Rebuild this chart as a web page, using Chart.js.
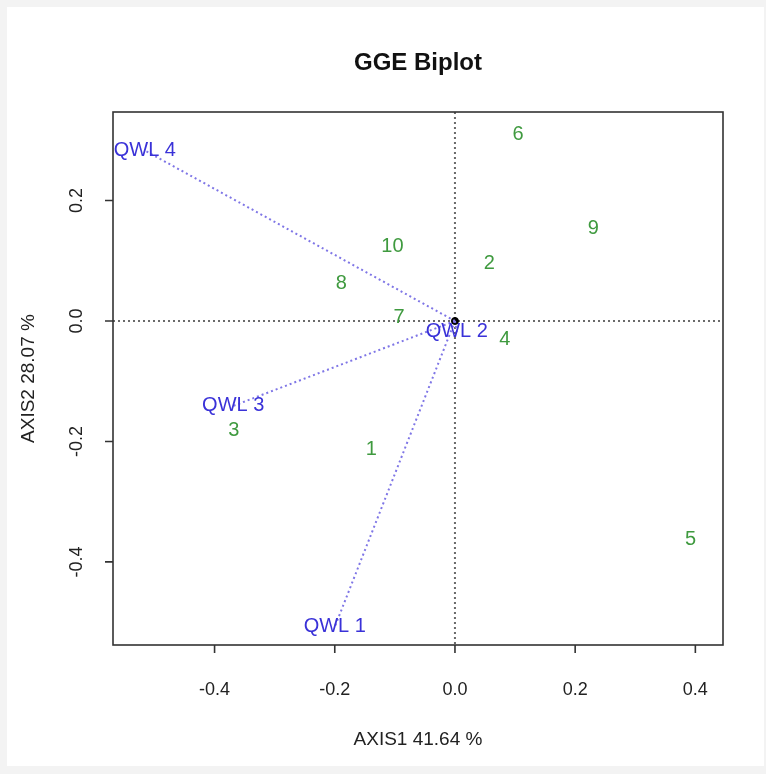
<!DOCTYPE html>
<html>
<head>
<meta charset="utf-8">
<title>GGE Biplot</title>
<script src="https://cdn.jsdelivr.net/npm/chart.js@4.4.1/dist/chart.umd.min.js"></script>
<style>
  html, body { margin: 0; padding: 0; background: #f3f3f3; }
  #wrap { position: relative; width: 766px; height: 774px; }
  #frame { position: absolute; left: 7px; top: 7px; width: 757px; height: 759px; background: #fff; }
  #biplot { position: absolute; left: 0; top: 0; }
</style>
</head>
<body>
<div id="wrap">
  <div id="frame"></div>
  <canvas id="biplot" width="766" height="774"></canvas>
</div>
<script>
'use strict';

// genotipos (puntos verdes)
var genLabels = ['1', '2', '3', '4', '5', '6', '7', '8', '9', '10'];
var genX = [-0.139, 0.057, -0.368, 0.083, 0.392, 0.105, -0.093, -0.189, 0.230, -0.104];
var genY = [-0.214, 0.095, -0.181, -0.030, -0.363, 0.309, 0.006, 0.063, 0.153, 0.123];

// ambientes (vectores azules)
var envLabels = ['QWL 1', 'QWL 2', 'QWL 3', 'QWL 4'];
var envX = [-0.200, 0.003, -0.369, -0.516];
var envY = [-0.508, -0.018, -0.141, 0.283];

// ejes
var xTicks = [-0.4, -0.2, 0.0, 0.2, 0.4];
var yTicks = [-0.4, -0.2, 0.0, 0.2];
var xRange = [-0.569, 0.446];
var yRange = [-0.538, 0.347];
var titulo = 'GGE Biplot';
var ejeX = 'AXIS1 41.64 %';
var ejeY = 'AXIS2 28.07 %';

var FONT = '"Liberation Sans", Arial, sans-serif';
var verde = '#3f9a3f';
var azul = '#3a32d8';
var azulLinea = '#7f76e6';

var genPts = [];
for (var i = 0; i < genLabels.length; i++) {
  genPts.push({ x: genX[i], y: genY[i] });
}

var datasets = [];
// vectores desde el origen a cada ambiente
for (var j = 0; j < envLabels.length; j++) {
  datasets.push({
    type: 'line',
    data: [{ x: 0, y: 0 }, { x: envX[j], y: envY[j] }],
    borderColor: azulLinea,
    borderWidth: 2,
    borderDash: [2, 3],
    pointRadius: 0,
    fill: false
  });
}
datasets.push({
  type: 'scatter',
  data: genPts,
  pointRadius: 0
});
// origen
datasets.push({
  type: 'scatter',
  data: [{ x: 0, y: 0 }],
  pointRadius: 3.5,
  pointBackgroundColor: '#000',
  pointBorderColor: '#000'
});

function tx(ctx, s, x, y, font, color, align) {
  ctx.font = font;
  ctx.fillStyle = color;
  ctx.textAlign = align || 'center';
  ctx.textBaseline = 'middle';
  ctx.fillText(s, x, y);
}

var ejesPlugin = {
  id: 'ejes',
  beforeDatasetsDraw: function (chart) {
    var ctx = chart.ctx;
    var a = chart.chartArea;
    var sx = chart.scales.x, sy = chart.scales.y;
    var x0 = sx.getPixelForValue(0), y0 = sy.getPixelForValue(0);
    ctx.save();
    ctx.strokeStyle = '#6a6a6a';
    ctx.lineWidth = 2;
    ctx.setLineDash([2, 3]);
    ctx.beginPath();
    ctx.moveTo(a.left, y0); ctx.lineTo(a.right, y0);
    ctx.moveTo(x0, a.top); ctx.lineTo(x0, a.bottom);
    ctx.stroke();
    ctx.restore();
  },
  afterDatasetsDraw: function (chart) {
    var ctx = chart.ctx;
    var a = chart.chartArea;
    var sx = chart.scales.x, sy = chart.scales.y;
    ctx.save();

    // etiquetas de genotipos
    var gm = chart.getDatasetMeta(envLabels.length);
    gm.data.forEach(function (p, k) {
      tx(ctx, genLabels[k], p.x, p.y, '20px ' + FONT, verde);
    });
    // etiquetas de ambientes
    for (var k = 0; k < envLabels.length; k++) {
      var em = chart.getDatasetMeta(k).data[1];
      tx(ctx, envLabels[k], em.x, em.y, '20px ' + FONT, azul);
    }

    // marco
    ctx.strokeStyle = '#333';
    ctx.lineWidth = 1.6;
    ctx.strokeRect(a.left, a.top, a.right - a.left, a.bottom - a.top);

    // ticks eje x
    ctx.beginPath();
    xTicks.forEach(function (v) {
      var px = sx.getPixelForValue(v);
      ctx.moveTo(px, a.bottom); ctx.lineTo(px, a.bottom + 8);
      tx(ctx, v.toFixed(1), px, a.bottom + 45, '18px ' + FONT, '#222');
    });
    // ticks eje y (etiquetas giradas como en R)
    yTicks.forEach(function (v) {
      var py = sy.getPixelForValue(v);
      ctx.moveTo(a.left, py); ctx.lineTo(a.left - 8, py);
      ctx.save();
      ctx.translate(a.left - 36, py);
      ctx.rotate(-Math.PI / 2);
      tx(ctx, v.toFixed(1), 0, 0, '18px ' + FONT, '#222');
      ctx.restore();
    });
    ctx.stroke();

    var cx = (a.left + a.right) / 2;
    tx(ctx, titulo, cx, 63, 'bold 24px ' + FONT, '#111');
    tx(ctx, ejeX, cx, a.bottom + 95, '19px ' + FONT, '#222');
    ctx.save();
    ctx.translate(29, (a.top + a.bottom) / 2);
    ctx.rotate(-Math.PI / 2);
    tx(ctx, ejeY, 0, 0, '19px ' + FONT, '#222');
    ctx.restore();

    ctx.restore();
  }
};

var ctx = document.getElementById('biplot').getContext('2d');
var myChart = new Chart(ctx, {
  type: 'scatter',
  data: { datasets: datasets },
  options: {
    responsive: false,
    animation: false,
    events: [],
    layout: { padding: { left: 113, right: 43, top: 112, bottom: 129 } },
    plugins: {
      legend: { display: false },
      tooltip: { enabled: false },
      title: { display: false }
    },
    scales: {
      x: { type: 'linear', min: xRange[0], max: xRange[1], display: false },
      y: { type: 'linear', min: yRange[0], max: yRange[1], display: false }
    }
  },
  plugins: [ejesPlugin]
});
</script>
</body>
</html>
